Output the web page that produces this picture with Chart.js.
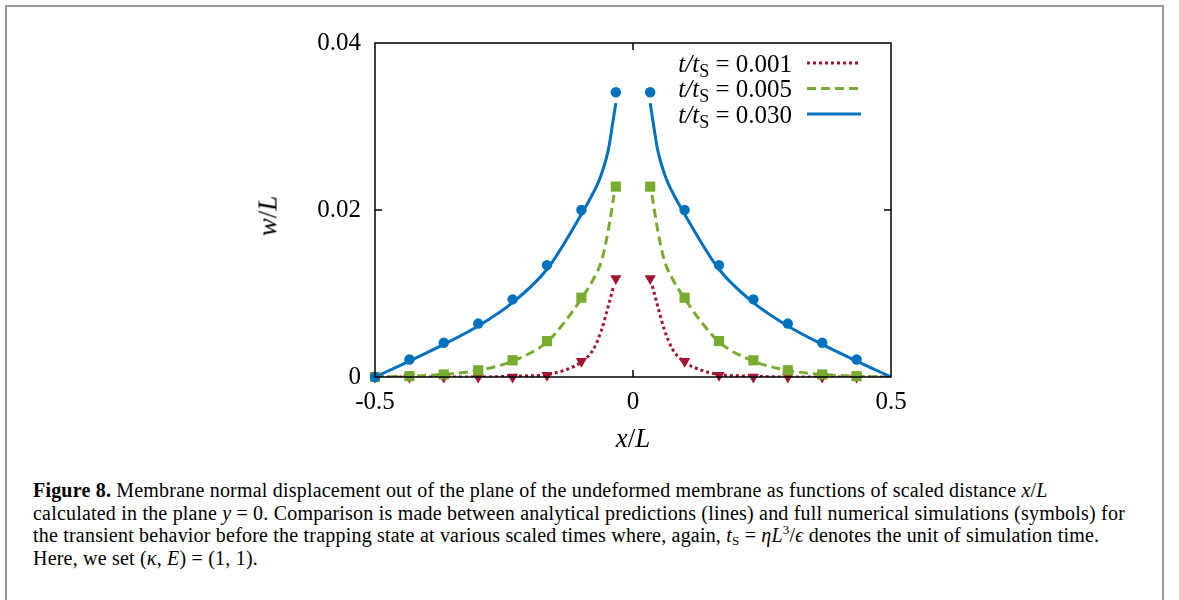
<!DOCTYPE html>
<html>
<head>
<meta charset="utf-8">
<script src="https://cdn.jsdelivr.net/npm/chart.js@4.4.1/dist/chart.umd.min.js"></script>
<style>
  html, body { margin: 0; padding: 0; background: #fff; }
  body { width: 1179px; height: 600px; position: relative; overflow: hidden; font-family: 'Liberation Serif', serif; color: #000; }
  #frame { position: absolute; left: 5px; top: 5px; width: 1155px; height: 700px; border: 2px solid #9a9a9a; border-bottom: none; }
  #wrap { position: absolute; left: 0; top: 0; width: 1179px; height: 470px; }
  .axt { position: absolute; font-size: 27px; white-space: nowrap; }
  .axt i { font-style: italic; }
  #ylab { left: 268px; top: 216px; transform: translate(-50%, -50%) rotate(-90deg); }
  #xlab { left: 633px; top: 438px; transform: translate(-50%, -50%); }
  #caption { position: absolute; left: 33px; top: 479px; font-size: 20px; letter-spacing: 0.2px; line-height: 22.5px; white-space: nowrap; }
  #caption sub { font-size: 13px; vertical-align: -3px; line-height: 0; }
  #caption sup { font-size: 13px; vertical-align: 8px; line-height: 0; }
</style>
</head>
<body>
<div id="frame"></div>
<div id="wrap"><canvas id="chart"></canvas></div>
<div id="ylab" class="axt"><i>w</i>/<i>L</i></div>
<div id="xlab" class="axt"><i>x</i>/<i>L</i></div>
<div id="caption">
  <b>Figure 8.</b> Membrane normal displacement out of the plane of the undeformed membrane as functions of scaled distance <i>x</i>/<i>L</i><br>
  calculated in the plane <i>y</i> = 0. Comparison is made between analytical predictions (lines) and full numerical simulations (symbols) for<br>
  the transient behavior before the trapping state at various scaled times where, again, <i>t</i><sub>S</sub> = <i>ηL</i><sup>3</sup>/<i>ϵ</i> denotes the unit of simulation time.<br>
  Here, we set (<i>κ</i>, <i>E</i>) = (1, 1).
</div>
<script>
// simulation symbols
const X_MARK_L = [-0.5, -0.4333, -0.3667, -0.3, -0.2333, -0.1667, -0.1, -0.0333];
const X_MARK_R = [0.0333, 0.1, 0.1667, 0.2333, 0.3, 0.3667, 0.4333];
const W_BLUE_L = [0, 0.0021, 0.0041, 0.0064, 0.0093, 0.0134, 0.0200, 0.0341];
const W_BLUE_R = [0.0341, 0.0200, 0.0134, 0.0093, 0.0064, 0.0041, 0.0021];
const W_GREEN_L = [0, 0.0001, 0.0003, 0.0008, 0.0020, 0.0043, 0.0095, 0.0228];
const W_GREEN_R = [0.0228, 0.0095, 0.0043, 0.0020, 0.0008, 0.0003, 0.0001];
const W_RED_L = [0, 0, 0, 0, 0, 0.0002, 0.0019, 0.0118];
const W_RED_R = [0.0118, 0.0019, 0.0002, 0, 0, 0, 0];

// analytical curves
const X_BLUE_L = [-0.5, -0.4333, -0.3667, -0.3, -0.2333, -0.1667, -0.1, -0.0775, -0.064, -0.0478, -0.0413, -0.0333];
const Y_BLUE_L = [0, 0.0019, 0.0039, 0.0061, 0.0089, 0.0129, 0.0195, 0.0220, 0.0238, 0.0272, 0.0296, 0.0328];
const X_BLUE_R = [0.0333, 0.0413, 0.0478, 0.064, 0.0775, 0.1, 0.1667, 0.2333, 0.3, 0.3667, 0.4333, 0.5];
const Y_BLUE_R = [0.0328, 0.0296, 0.0272, 0.0238, 0.0220, 0.0195, 0.0129, 0.0089, 0.0061, 0.0039, 0.0019, 0];
const X_GREEN_L = [-0.5, -0.4333, -0.3667, -0.3, -0.2333, -0.1667, -0.1286, -0.1, -0.0769, -0.0606, -0.0478, -0.0368];
const Y_GREEN_L = [0, 0.0001, 0.0003, 0.0008, 0.0019, 0.0042, 0.0069, 0.0094, 0.0117, 0.0140, 0.0176, 0.0218];
const X_GREEN_R = [0.0368, 0.0478, 0.0606, 0.0769, 0.1, 0.1286, 0.1667, 0.2333, 0.3, 0.3667, 0.4333, 0.5];
const Y_GREEN_R = [0.0218, 0.0176, 0.0140, 0.0117, 0.0094, 0.0069, 0.0042, 0.0019, 0.0008, 0.0003, 0.0001, 0];
const X_RED_L = [-0.5, -0.3, -0.2333, -0.1667, -0.1286, -0.1, -0.0769, -0.0606, -0.0478, -0.0375];
const Y_RED_L = [0, 0, 0.0001, 0.0003, 0.0009, 0.0018, 0.0033, 0.0057, 0.0085, 0.0109];
const X_RED_R = [0.0375, 0.0478, 0.0606, 0.0769, 0.1, 0.1286, 0.1667, 0.2333, 0.3, 0.5];
const Y_RED_R = [0.0109, 0.0085, 0.0057, 0.0033, 0.0018, 0.0009, 0.0003, 0.0001, 0, 0];

const X_TICKS = ['-0.5', '0', '0.5'];
const Y_TICKS = ['0', '0.02', '0.04'];
const LEGEND_VALUES = ['0.001', '0.005', '0.030'];

const RED = '#a2142f';
const GREEN = '#77ac30';
const BLUE = '#0072bd';
const FONT = "'Liberation Serif', serif";

const pts = (xs, ys) => xs.map((x, i) => ({ x: x, y: ys[i] }));

function curve(xs, ys, color, dash, order) {
  return {
    data: pts(xs, ys),
    showLine: true,
    borderColor: color,
    borderWidth: 3,
    borderDash: dash,
    borderCapStyle: 'butt',
    cubicInterpolationMode: 'monotone',
    pointRadius: 0,
    pointHoverRadius: 0,
    order: order,
  };
}

function marks(xs, ys, color, style, radius, rot, order) {
  return {
    data: pts(xs, ys),
    showLine: false,
    backgroundColor: color,
    borderColor: color,
    borderWidth: 0,
    pointStyle: style,
    pointRadius: radius,
    pointRotation: rot,
    clip: false,
    order: order,
  };
}

// axes box, inward ticks and the legend
const frameAndLegend = {
  id: 'frameAndLegend',
  afterDatasetsDraw(chart) {
    const { ctx, chartArea: a, scales } = chart;
    ctx.save();
    ctx.strokeStyle = '#000';
    ctx.lineWidth = 1.5;
    ctx.strokeRect(a.left, a.top, a.right - a.left, a.bottom - a.top);
    ctx.beginPath();
    const x0 = scales.x.getPixelForValue(0);
    ctx.moveTo(x0, a.bottom); ctx.lineTo(x0, a.bottom - 7);
    ctx.moveTo(x0, a.top); ctx.lineTo(x0, a.top + 7);
    const y2 = scales.y.getPixelForValue(0.02);
    ctx.moveTo(a.left, y2); ctx.lineTo(a.left + 7, y2);
    ctx.moveTo(a.right, y2); ctx.lineTo(a.right - 7, y2);
    ctx.stroke();

    const styles = [[RED, [3, 3]], [GREEN, [9, 5]], [BLUE, []]];
    const rowY = [63, 88.5, 114];
    ctx.fillStyle = '#000';
    ctx.textBaseline = 'alphabetic';
    LEGEND_VALUES.forEach((v, i) => {
      const base = rowY[i] + 8.5;
      const italic = 'italic 25px ' + FONT;
      const roman = '25px ' + FONT;
      const small = '18px ' + FONT;
      ctx.font = italic; const w1 = ctx.measureText('t/t').width;
      ctx.font = small; const w2 = ctx.measureText('S').width;
      ctx.font = roman; const w3 = ctx.measureText(' = ' + v).width;
      let x = 792 - (w1 + w2 + w3);
      ctx.font = italic; ctx.fillText('t/t', x, base); x += w1;
      ctx.font = small; ctx.fillText('S', x, base + 5); x += w2;
      ctx.font = roman; ctx.fillText(' = ' + v, x, base);
      ctx.strokeStyle = styles[i][0];
      ctx.lineWidth = 3;
      ctx.setLineDash(styles[i][1]);
      ctx.beginPath();
      ctx.moveTo(807, rowY[i]); ctx.lineTo(861, rowY[i]);
      ctx.stroke();
    });
    ctx.restore();
  }
};

new Chart(document.getElementById('chart'), {
  type: 'scatter',
  data: {
    datasets: [
      curve(X_RED_L, Y_RED_L, RED, [3, 3], 6),
      curve(X_RED_R, Y_RED_R, RED, [3, 3], 6),
      curve(X_GREEN_L, Y_GREEN_L, GREEN, [9, 5], 5),
      curve(X_GREEN_R, Y_GREEN_R, GREEN, [9, 5], 5),
      curve(X_BLUE_L, Y_BLUE_L, BLUE, [], 4),
      curve(X_BLUE_R, Y_BLUE_R, BLUE, [], 4),
      marks(X_MARK_L, W_RED_L, RED, 'triangle', 6.5, 180, 3),
      marks(X_MARK_R, W_RED_R, RED, 'triangle', 6.5, 180, 3),
      marks(X_MARK_L, W_GREEN_L, GREEN, 'rect', 7.2, 0, 2),
      marks(X_MARK_R, W_GREEN_R, GREEN, 'rect', 7.2, 0, 2),
      marks(X_MARK_L, W_BLUE_L, BLUE, 'circle', 5.2, 0, 1),
      marks(X_MARK_R, W_BLUE_R, BLUE, 'circle', 5.2, 0, 1),
    ],
  },
  options: {
    responsive: true,
    maintainAspectRatio: false,
    animation: false,
    events: [],
    layout: { padding: { left: 285, right: 288, top: 43, bottom: 33 } },
    plugins: { legend: { display: false }, tooltip: { enabled: false } },
    scales: {
      x: {
        type: 'linear',
        min: -0.5,
        max: 0.5,
        afterFit: (s) => { s.height = 60; },
        grid: { display: false, drawTicks: false },
        border: { display: false },
        ticks: {
          stepSize: 0.5,
          padding: 10,
          color: '#000',
          font: { family: FONT, size: 25 },
          maxRotation: 0,
          callback: (v, i) => X_TICKS[i],
        },
      },
      y: {
        type: 'linear',
        min: 0,
        max: 0.04,
        afterFit: (s) => { s.width = 90; },
        grid: { display: false, drawTicks: false },
        border: { display: false },
        ticks: {
          stepSize: 0.02,
          padding: 14,
          color: '#000',
          font: { family: FONT, size: 25 },
          callback: (v, i) => Y_TICKS[i],
        },
      },
    },
  },
  plugins: [frameAndLegend],
});
</script>
</body>
</html>
